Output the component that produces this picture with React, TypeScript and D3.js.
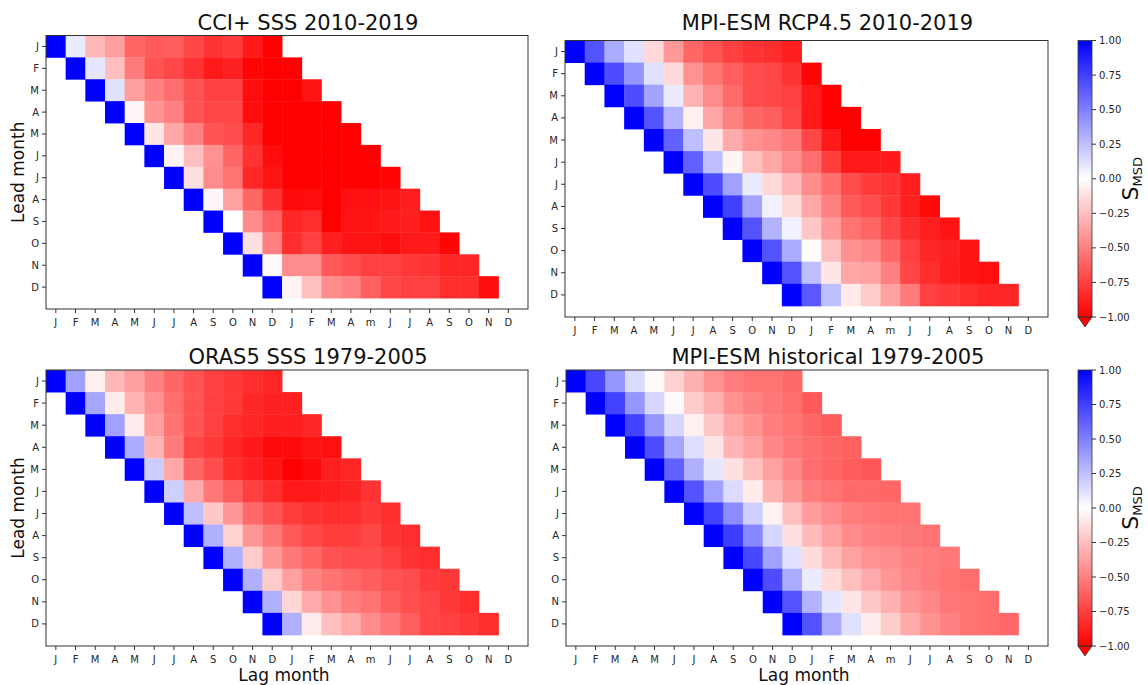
import React from "react";
import * as d3 from "d3";

// Month labels
const leadMonths = ["J", "F", "M", "A", "M", "J", "J", "A", "S", "O", "N", "D"];
const lagMonths = [
  "J", "F", "M", "A", "M", "J", "J", "A", "S", "O", "N", "D",
  "J", "F", "M", "A", "m", "J", "J", "A", "S", "O", "N", "D",
];
const colorbarTicks = [1, 0.75, 0.5, 0.25, 0, -0.25, -0.5, -0.75, -1];

// S_MSD per lead month (row); each row holds 12 lags starting at the lead month itself
const cciSss = [
  [1.0, 0.08, -0.28, -0.38, -0.6, -0.65, -0.63, -0.72, -0.8, -0.77, -0.9, -1.0],
  [1.0, 0.1, -0.25, -0.52, -0.68, -0.72, -0.8, -0.9, -0.87, -0.98, -1.0, -1.0],
  [1.0, 0.12, -0.38, -0.5, -0.57, -0.68, -0.75, -0.75, -0.95, -1.0, -1.0, -0.92],
  [1.0, -0.03, -0.42, -0.5, -0.67, -0.72, -0.72, -0.95, -1.0, -1.0, -1.0, -1.0],
  [1.0, -0.1, -0.35, -0.5, -0.67, -0.7, -0.85, -1.0, -1.0, -1.0, -1.0, -1.0],
  [1.0, -0.05, -0.25, -0.43, -0.6, -0.8, -0.95, -1.0, -1.0, -1.0, -1.0, -1.0],
  [1.0, -0.12, -0.45, -0.55, -0.85, -0.92, -1.0, -1.0, -1.0, -1.0, -1.0, -0.98],
  [1.0, -0.03, -0.37, -0.6, -0.8, -0.96, -0.95, -1.0, -0.94, -0.94, -0.92, -0.88],
  [1.0, 0.0, -0.45, -0.62, -0.85, -0.82, -1.0, -0.92, -0.92, -0.9, -0.88, -0.93],
  [1.0, -0.12, -0.5, -0.82, -0.75, -0.88, -0.92, -0.92, -0.95, -0.9, -0.9, -0.98],
  [1.0, -0.02, -0.45, -0.45, -0.65, -0.7, -0.75, -0.75, -0.78, -0.8, -0.85, -0.85],
  [1.0, -0.05, -0.25, -0.45, -0.5, -0.62, -0.72, -0.75, -0.75, -0.82, -0.82, -0.95],
];

const mpiRcp45 = [
  [1.0, 0.67, 0.33, 0.12, -0.15, -0.4, -0.6, -0.68, -0.75, -0.8, -0.82, -0.88],
  [1.0, 0.7, 0.42, 0.12, -0.15, -0.43, -0.55, -0.63, -0.7, -0.72, -0.8, -0.98],
  [1.0, 0.7, 0.36, 0.08, -0.3, -0.45, -0.58, -0.7, -0.72, -0.75, -0.9, -1.0],
  [1.0, 0.67, 0.3, -0.06, -0.35, -0.5, -0.6, -0.63, -0.72, -0.9, -1.0, -1.0],
  [1.0, 0.62, 0.25, -0.1, -0.33, -0.43, -0.47, -0.53, -0.72, -0.9, -1.0, -1.0],
  [1.0, 0.62, 0.25, -0.04, -0.25, -0.35, -0.45, -0.57, -0.76, -0.9, -0.9, -0.9],
  [1.0, 0.7, 0.37, 0.08, -0.15, -0.28, -0.45, -0.57, -0.7, -0.77, -0.8, -0.88],
  [1.0, 0.75, 0.37, 0.05, -0.15, -0.35, -0.5, -0.65, -0.7, -0.78, -0.88, -0.96],
  [1.0, 0.67, 0.3, 0.05, -0.22, -0.4, -0.55, -0.6, -0.72, -0.82, -0.88, -0.92],
  [1.0, 0.68, 0.33, -0.01, -0.25, -0.43, -0.47, -0.6, -0.75, -0.85, -0.87, -0.92],
  [1.0, 0.68, 0.25, -0.1, -0.35, -0.37, -0.5, -0.73, -0.82, -0.88, -0.92, -0.94],
  [1.0, 0.65, 0.25, -0.08, -0.2, -0.37, -0.52, -0.75, -0.78, -0.82, -0.85, -0.85],
];

const oras5Sss = [
  [1.0, 0.37, -0.06, -0.28, -0.38, -0.5, -0.6, -0.68, -0.75, -0.78, -0.82, -0.85],
  [1.0, 0.35, -0.08, -0.3, -0.43, -0.57, -0.67, -0.75, -0.78, -0.85, -0.87, -0.87],
  [1.0, 0.37, -0.08, -0.38, -0.55, -0.67, -0.75, -0.82, -0.85, -0.88, -0.88, -0.85],
  [1.0, 0.33, -0.3, -0.52, -0.73, -0.78, -0.85, -0.9, -0.96, -0.96, -0.92, -0.94],
  [1.0, 0.2, -0.35, -0.6, -0.7, -0.82, -0.87, -0.92, -1.0, -0.96, -0.88, -0.85],
  [1.0, 0.19, -0.33, -0.53, -0.63, -0.75, -0.82, -0.9, -0.9, -0.88, -0.86, -0.8],
  [1.0, 0.25, -0.22, -0.41, -0.59, -0.68, -0.76, -0.8, -0.82, -0.82, -0.78, -0.82],
  [1.0, 0.31, -0.18, -0.41, -0.53, -0.65, -0.72, -0.76, -0.76, -0.72, -0.8, -0.82],
  [1.0, 0.31, -0.2, -0.41, -0.53, -0.6, -0.68, -0.7, -0.7, -0.75, -0.8, -0.82],
  [1.0, 0.31, -0.2, -0.37, -0.49, -0.55, -0.59, -0.63, -0.68, -0.7, -0.77, -0.78],
  [1.0, 0.31, -0.16, -0.33, -0.43, -0.51, -0.55, -0.63, -0.69, -0.72, -0.78, -0.82],
  [1.0, 0.31, -0.08, -0.25, -0.33, -0.45, -0.53, -0.63, -0.72, -0.75, -0.78, -0.82],
];

const mpiHistorical = [
  [1.0, 0.72, 0.41, 0.14, -0.02, -0.18, -0.31, -0.43, -0.51, -0.55, -0.55, -0.59],
  [1.0, 0.74, 0.41, 0.16, -0.02, -0.2, -0.31, -0.43, -0.49, -0.53, -0.57, -0.65],
  [1.0, 0.74, 0.41, 0.16, -0.06, -0.22, -0.35, -0.43, -0.51, -0.55, -0.6, -0.64],
  [1.0, 0.7, 0.35, 0.13, -0.1, -0.29, -0.37, -0.47, -0.53, -0.57, -0.6, -0.62],
  [1.0, 0.62, 0.31, 0.1, -0.12, -0.25, -0.37, -0.47, -0.57, -0.6, -0.64, -0.66],
  [1.0, 0.68, 0.37, 0.14, -0.08, -0.29, -0.41, -0.51, -0.55, -0.59, -0.59, -0.6],
  [1.0, 0.74, 0.45, 0.19, -0.05, -0.25, -0.39, -0.45, -0.51, -0.53, -0.55, -0.55],
  [1.0, 0.76, 0.47, 0.16, -0.12, -0.27, -0.37, -0.45, -0.49, -0.51, -0.53, -0.55],
  [1.0, 0.72, 0.37, 0.12, -0.14, -0.27, -0.37, -0.43, -0.45, -0.49, -0.51, -0.53],
  [1.0, 0.7, 0.33, 0.08, -0.14, -0.25, -0.33, -0.41, -0.47, -0.51, -0.55, -0.57],
  [1.0, 0.68, 0.3, 0.1, -0.1, -0.22, -0.31, -0.41, -0.47, -0.53, -0.55, -0.57],
  [1.0, 0.68, 0.33, 0.12, -0.08, -0.2, -0.33, -0.43, -0.49, -0.55, -0.57, -0.59],
];

const panelTitles = [
  "CCI+ SSS 2010-2019",
  "MPI-ESM RCP4.5 2010-2019",
  "ORAS5 SSS 1979-2005",
  "MPI-ESM historical 1979-2005",
];
const panelData = [cciSss, mpiRcp45, oras5Sss, mpiHistorical];

// Axes boxes in pixels
const boxes = [
  { left: 46, right: 528, top: 35.5, bottom: 309, leadLabel: true, lagLabel: false },
  { left: 565, right: 1048, top: 40.5, bottom: 317, leadLabel: false, lagLabel: false },
  { left: 46, right: 528, top: 370, bottom: 646, leadLabel: true, lagLabel: true },
  { left: 566, right: 1048, top: 370, bottom: 646, leadLabel: false, lagLabel: true },
];
const titleBaselines = [30, 30, 364, 364];
const colorbars = [
  { left: 1078, width: 14, top: 40.5, bottom: 317 },
  { left: 1078, width: 14, top: 370, bottom: 646 },
];

const FONT = "'DejaVu Sans', Verdana, sans-serif";
const INK = "#262626";

// bwr colormap reversed: +1 blue, 0 white, -1 red
const color = d3
  .scaleLinear<string>()
  .domain([-1, 0, 1])
  .range(["#ff0000", "#ffffff", "#0000ff"])
  .interpolate(d3.interpolateRgb)
  .clamp(true);

function fmt(v: number) {
  const s = v.toFixed(2);
  return v < 0 ? "\u2212" + s.slice(1) : s;
}

function Panel({ idx }: { idx: number }) {
  const b = boxes[idx];
  const rows = panelData[idx];
  const x = d3.scaleLinear().domain([-0.5, 24]).range([b.left, b.right]);
  const y = d3.scaleLinear().domain([-0.5, 12]).range([b.top, b.bottom]);
  const cx = (b.left + b.right) / 2;
  const cy = (b.top + b.bottom) / 2;

  const cells: React.ReactNode[] = [];
  rows.forEach((row, r) => {
    row.forEach((v, k) => {
      const c = r + k;
      const x0 = x(c - 0.5);
      const x1 = x(c + 0.5);
      const y0 = y(r - 0.5);
      const y1 = y(r + 0.5);
      cells.push(
        <rect
          key={`${r}-${k}`}
          x={x0}
          y={y0}
          width={x1 - x0 + 0.4}
          height={y1 - y0 + 0.4}
          fill={color(v)}
        />
      );
    });
  });

  return (
    <g>
      <text
        x={cx + 21}
        y={titleBaselines[idx]}
        textAnchor="middle"
        fontSize={21}
        fontFamily={FONT}
        fill="#111"
      >
        {panelTitles[idx]}
      </text>
      {cells}
      <rect
        x={b.left}
        y={b.top}
        width={b.right - b.left}
        height={b.bottom - b.top}
        fill="none"
        stroke="#333"
        strokeWidth={1}
      />
      {lagMonths.map((m, i) => (
        <g key={`xt${i}`}>
          <line x1={x(i)} x2={x(i)} y1={b.bottom} y2={b.bottom + 4} stroke="#333" />
          <text
            x={x(i)}
            y={b.bottom + 17}
            textAnchor="middle"
            fontSize={10}
            fontFamily={FONT}
            fill={INK}
          >
            {m}
          </text>
        </g>
      ))}
      {leadMonths.map((m, i) => (
        <g key={`yt${i}`}>
          <line x1={b.left - 4} x2={b.left} y1={y(i)} y2={y(i)} stroke="#333" />
          <text
            x={b.left - 7}
            y={y(i)}
            dy="0.35em"
            textAnchor="end"
            fontSize={10}
            fontFamily={FONT}
            fill={INK}
          >
            {m}
          </text>
        </g>
      ))}
      {b.leadLabel && (
        <text
          transform={`translate(24,${cy}) rotate(-90)`}
          textAnchor="middle"
          fontSize={17}
          fontFamily={FONT}
          fill="#111"
        >
          Lead month
        </text>
      )}
      {b.lagLabel && (
        <text
          x={cx - 3}
          y={681}
          textAnchor="middle"
          fontSize={17}
          fontFamily={FONT}
          fill="#111"
        >
          Lag month
        </text>
      )}
    </g>
  );
}

function Colorbar({ idx }: { idx: number }) {
  const cb = colorbars[idx];
  const s = d3.scaleLinear().domain([1, -1]).range([cb.top, cb.bottom]);
  const gid = `cbgrad${idx}`;
  const right = cb.left + cb.width;
  const mid = cb.left + cb.width / 2;
  return (
    <g>
      <defs>
        <linearGradient id={gid} x1="0" y1="0" x2="0" y2="1">
          <stop offset="0%" stopColor={color(1)} />
          <stop offset="50%" stopColor={color(0)} />
          <stop offset="100%" stopColor={color(-1)} />
        </linearGradient>
      </defs>
      <rect
        x={cb.left}
        y={cb.top}
        width={cb.width}
        height={cb.bottom - cb.top}
        fill={`url(#${gid})`}
      />
      <path
        d={`M${cb.left},${cb.bottom} L${right},${cb.bottom} L${mid},${cb.bottom + 10} Z`}
        fill={color(-1)}
        stroke="#333"
        strokeWidth={0.8}
      />
      <rect
        x={cb.left}
        y={cb.top}
        width={cb.width}
        height={cb.bottom - cb.top}
        fill="none"
        stroke="#333"
        strokeWidth={0.8}
      />
      {colorbarTicks.map((t) => (
        <g key={t}>
          <line x1={right} x2={right + 4} y1={s(t)} y2={s(t)} stroke="#333" />
          <text
            x={right + 7}
            y={s(t)}
            dy="0.35em"
            fontSize={10}
            fontFamily={FONT}
            fill={INK}
          >
            {fmt(t)}
          </text>
        </g>
      ))}
      <text
        transform={`translate(1138,${(cb.top + cb.bottom) / 2}) rotate(-90)`}
        textAnchor="middle"
        fontFamily={FONT}
        fill="#111"
      >
        <tspan fontSize={22}>S</tspan>
        <tspan fontSize={13} dy={4}>
          MSD
        </tspan>
      </text>
    </g>
  );
}

export default function App() {
  return (
    <svg
      width={1148}
      height={685}
      viewBox="0 0 1148 685"
      style={{ position: "absolute", left: 0, top: 0, background: "#fff" }}
    >
      <rect width={1148} height={685} fill="#fff" />
      {[0, 1, 2, 3].map((i) => (
        <Panel key={i} idx={i} />
      ))}
      {[0, 1].map((i) => (
        <Colorbar key={i} idx={i} />
      ))}
    </svg>
  );
}
